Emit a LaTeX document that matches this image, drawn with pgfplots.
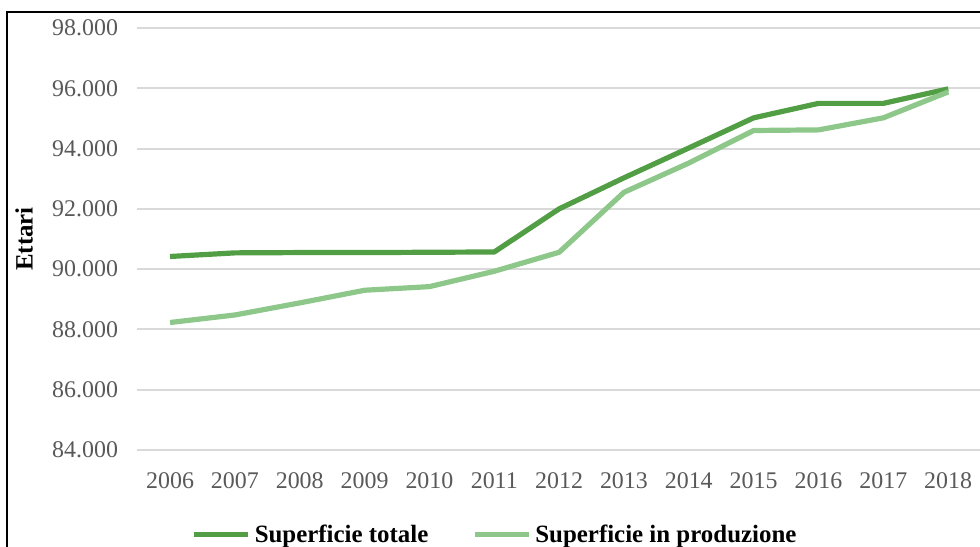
\documentclass[border=0pt]{standalone}
\usepackage{pgfplots}
\pgfplotsset{compat=1.18}
\usepackage{fontspec}
\setmainfont{Liberation Serif}
\definecolor{darkg}{HTML}{529E45}
\definecolor{lightg}{HTML}{8DC78A}
\definecolor{gridg}{HTML}{D9D9D9}
\definecolor{tickg}{HTML}{595959}
\begin{document}
\begin{tikzpicture}
\useasboundingbox (0,0) rectangle (490bp,-273.5bp);
\clip (0,0) rectangle (490bp,-273.5bp);
\draw[line width=1.1bp] (3.5bp,-300bp) -- (3.5bp,-6bp) -- (500bp,-6bp);
\begin{axis}[
  at={(68.5bp,-225bp)}, anchor=south west,
  scale only axis, width=421.5bp, height=211bp,
  xmin=2005.49, xmax=2018.49,
  ymin=84000, ymax=98000,
  ytick={84000,86000,...,98000},
  xtick={2006,...,2018},
  scaled y ticks=false,
  axis line style={draw=none},
  major tick length=0pt,
  ymajorgrids, grid style={gridg, line width=1bp},
  tick label style={font=\fontsize{12}{14}\selectfont, text=tickg},
  /pgf/number format/assume math mode=true,
  yticklabel style={/pgf/number format/.cd, fixed, precision=0, 1000 sep={.}, /tikz/.cd, anchor=east, xshift=-6bp},
  xticklabel style={/pgf/number format/.cd, 1000 sep={}, /tikz/.cd, anchor=north, yshift=-8bp},
  ylabel={Ettari},
  every axis y label/.style={at={(rel axis cs:0,0.5)}, xshift=-56.5bp, rotate=90, anchor=center,
    font=\fontsize{12.5}{14}\selectfont\bfseries},
  legend columns=2,
  legend style={draw=none, fill=none, at={(rel axis cs:0.426,-0.201)}, anchor=center,
    font=\fontsize{12.5}{14}\selectfont\bfseries, /tikz/every even column/.append style={column sep=20bp}},
  legend image code/.code={\draw[#1, line width=2.5bp] (0bp,0bp) -- (27bp,0bp);},
  clip=false,
]
\addplot[darkg, line width=2.6bp, line join=round] coordinates {
(2006,90420) (2007,90540) (2008,90550) (2009,90550) (2010,90560) (2011,90570)
(2012,92000) (2013,93030) (2014,94020) (2015,95020) (2016,95500) (2017,95500) (2018,95980)};
\addlegendentry{Superficie totale}
\addplot[lightg, line width=2.6bp, line join=round] coordinates {
(2006,88230) (2007,88480) (2008,88880) (2009,89300) (2010,89420) (2011,89930)
(2012,90560) (2013,92550) (2014,93520) (2015,94600) (2016,94620) (2017,95020) (2018,95880)};
\addlegendentry{Superficie in produzione}
\end{axis}
\end{tikzpicture}
\end{document}
